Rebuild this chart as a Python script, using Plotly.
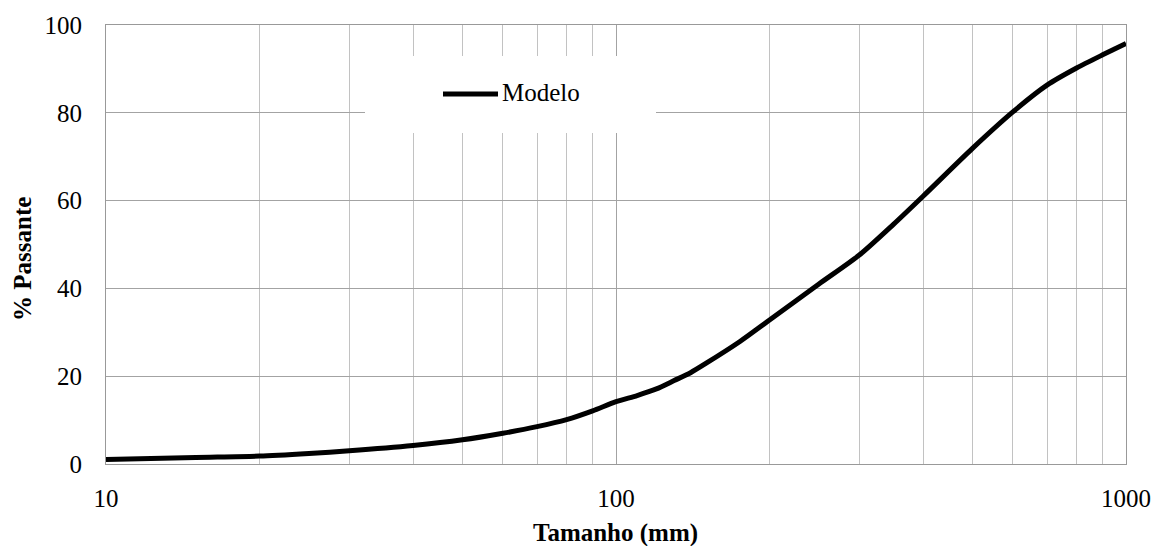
import plotly.graph_objects as go

# Particle size distribution (model curve)
tamanho_mm = [10, 15, 20, 25, 30, 40, 50, 60, 70, 80, 90, 100, 110, 120, 130,
              140, 150, 175, 200, 250, 300, 350, 400, 500, 600, 700, 800, 900, 1000]
passante = [1.0, 1.5, 1.8, 2.4, 3.0, 4.2, 5.5, 7.0, 8.5, 10.1, 12.1, 14.2, 15.6, 17.1, 19.0,
            20.8, 22.9, 27.9, 32.8, 41.0, 47.6, 54.6, 61.0, 71.9, 80.2, 86.3, 90.2, 93.2, 95.8]

x_ticks = [10, 100, 1000]
x_minor = [20, 30, 40, 50, 60, 70, 80, 90, 200, 300, 400, 500, 600, 700, 800, 900]
y_ticks = [0, 20, 40, 60, 80, 100]

FONT = "Liberation Serif"
GRID_MAJOR = "#a3a3a3"
GRID_MINOR = "#c2c2c2"
FRAME = "#999999"

fig = go.Figure()
fig.add_trace(go.Scatter(
    x=tamanho_mm, y=passante, mode="lines", name="Modelo",
    line=dict(color="black", width=5, shape="spline", smoothing=0.7),
    showlegend=False,
))

W, H = 1157, 546
L, R, T, B = 106, 31, 25, 82
pw, ph = W - L - R, H - T - B


def px(xp):
    return (xp - L) / pw


def py(yp):
    return (H - B - yp) / ph


fig.update_layout(
    width=W, height=H,
    margin=dict(l=L, r=R, t=T, b=B, autoexpand=False),
    paper_bgcolor="white", plot_bgcolor="white",
    font=dict(family=FONT, size=25, color="black"),
    xaxis=dict(
        type="log", range=[1, 3], automargin=False,
        tickvals=x_ticks, ticktext=[str(v) for v in x_ticks],
        ticks="outside", ticklen=12, tickcolor="rgba(0,0,0,0)",
        tickfont=dict(family=FONT, size=25, color="black"),
        showgrid=True, gridcolor=GRID_MAJOR, gridwidth=1,
        minor=dict(tickvals=x_minor, showgrid=True, gridcolor=GRID_MINOR,
                   gridwidth=1, ticks=""),
        showline=True, linecolor=FRAME, linewidth=1, mirror=True,
        zeroline=False,
    ),
    yaxis=dict(
        range=[0, 100], tickvals=y_ticks, automargin=False,
        ticks="outside", ticklen=18, tickcolor="rgba(0,0,0,0)",
        tickfont=dict(family=FONT, size=25, color="black"),
        showgrid=True, gridcolor=GRID_MAJOR, gridwidth=1,
        showline=True, linecolor=FRAME, linewidth=1, mirror=True,
        zeroline=False,
    ),
    shapes=[
        # legend box
        dict(type="rect", xref="paper", yref="paper",
             x0=px(365), x1=px(656), y0=py(133), y1=py(56),
             fillcolor="white", line=dict(width=0), layer="above"),
        # legend line sample
        dict(type="line", xref="paper", yref="paper",
             x0=px(443), x1=px(498), y0=py(94), y1=py(94),
             line=dict(color="black", width=5), layer="above"),
    ],
    annotations=[
        dict(text="Modelo", xref="paper", yref="paper",
             x=px(500), y=py(93), xanchor="left", yanchor="middle",
             showarrow=False, font=dict(family=FONT, size=25, color="black")),
        dict(text="<b>% Passante</b>", xref="paper", yref="paper",
             x=px(22), y=py(259), xanchor="center", yanchor="middle",
             textangle=-90, showarrow=False,
             font=dict(family=FONT, size=25, color="black")),
        dict(text="<b>Tamanho (mm)</b>", xref="paper", yref="paper",
             x=px(615), y=py(533), xanchor="center", yanchor="middle",
             showarrow=False, font=dict(family=FONT, size=25, color="black")),
    ],
)

fig.write_html("out.html")
